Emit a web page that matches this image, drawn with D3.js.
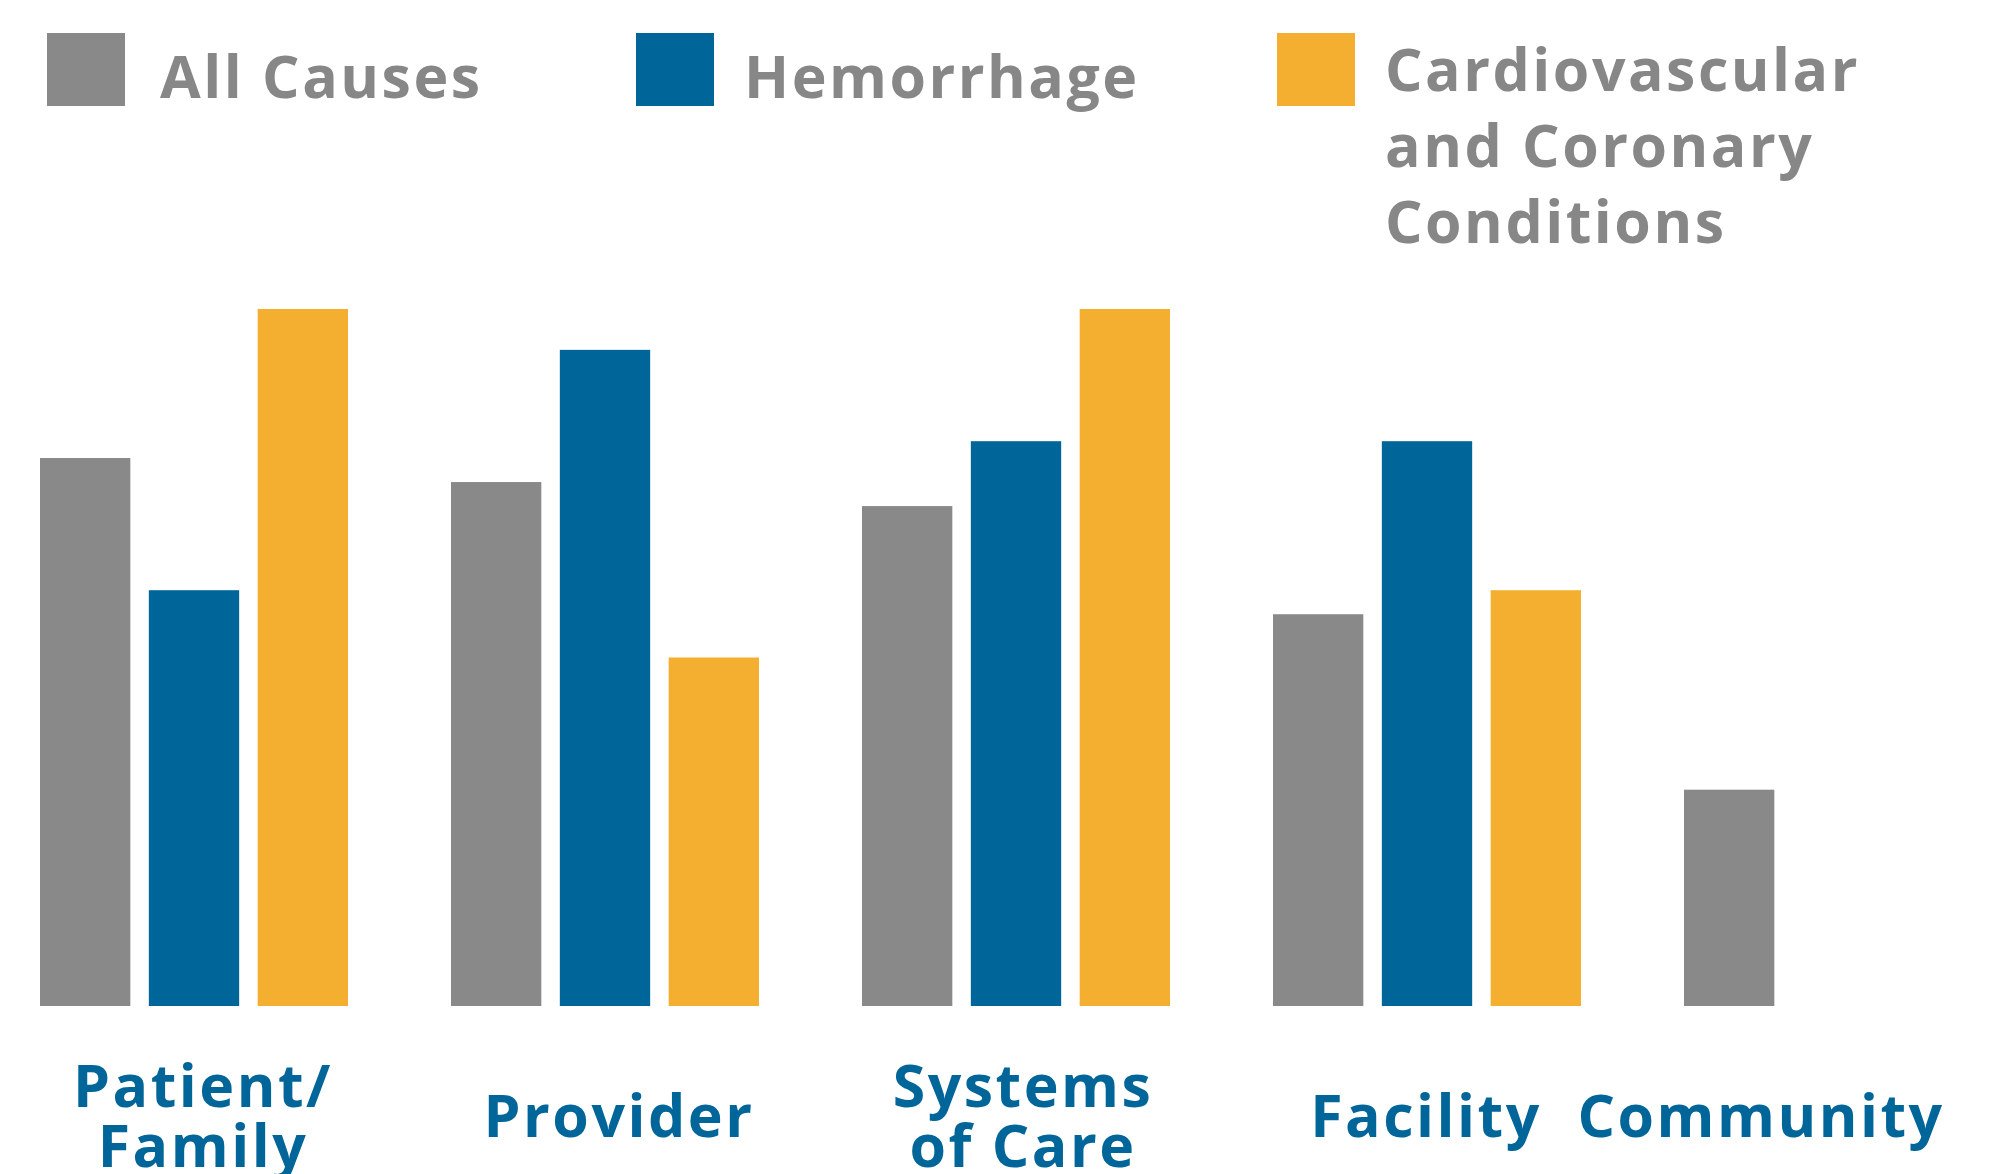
<!DOCTYPE html>
<html>
<head>
<meta charset="utf-8">
<script src="https://cdn.jsdelivr.net/npm/d3@7"></script>
<style>
  body { margin: 0; background: #fff; }
  svg { display: block; }
  text { font-family: "Open Sans", sans-serif; font-weight: 700; letter-spacing: 2.5px; }
</style>
</head>
<body>
<div id="chart"></div>
<script>
var svgWidth = 1989;
var svgHeight = 1174;

// data
var categories = ["Patient/\nFamily", "Provider", "Systems\nof Care", "Facility", "Community"];
var seriesNames = ["All Causes", "Hemorrhage", "Cardiovascular\nand Coronary\nConditions"];
var allCauses = [22.8, 21.8, 20.8, 16.3, 9.0];
var hemorrhage = [17.3, 27.3, 23.5, 23.5, null];
var cardio = [29.0, 14.5, 29.0, 17.3, null];
var seriesValues = [allCauses, hemorrhage, cardio];

var colors = ["#898989", "#00669a", "#f4af30"];
var blue = "#00669a";
var textGray = "#878787";

var svg = d3.select("#chart")
  .append("svg")
  .attr("width", svgWidth)
  .attr("height", svgHeight);

// scales
var x0 = d3.scaleBand()
  .domain(categories)
  .range([40, 40 + 5 * 411])
  .padding(0);

var x1 = d3.scaleBand()
  .domain(d3.range(seriesNames.length))
  .range([0, 308])
  .paddingInner(0.17)
  .paddingOuter(0);

var yScale = d3.scaleLinear()
  .domain([0, 29])
  .range([1006, 309]);

// bars
var groups = svg.selectAll("g.group")
  .data(categories)
  .enter()
  .append("g")
  .attr("class", "group")
  .attr("transform", function(d) {
    return "translate(" + x0(d) + ",0)";
  });

groups.selectAll("rect")
  .data(function(d, i) {
    return seriesValues.map(function(vals, s) {
      return { s: s, v: vals[i] };
    }).filter(function(d) { return d.v != null; });
  })
  .enter()
  .append("rect")
  .attr("x", function(d) { return x1(d.s); })
  .attr("y", function(d) { return yScale(d.v); })
  .attr("width", x1.bandwidth())
  .attr("height", function(d) { return yScale(0) - yScale(d.v); })
  .attr("fill", function(d) { return colors[d.s]; });

// category labels (small nudges to sit where the original has them)
var labelShift = [9, 14, 7, -1, -77];
var labelSize = 59;
var lineGap = 60;

groups.each(function(d, i) {
  var lines = d.split("\n");
  var cx = 154 + labelShift[i];
  var t = d3.select(this).append("text")
    .attr("text-anchor", "middle")
    .attr("fill", blue)
    .attr("font-size", labelSize);
  lines.forEach(function(line, j) {
    t.append("tspan")
      .attr("x", cx)
      .attr("y", 1137 + (j - (lines.length - 1) / 2) * lineGap)
      .text(line);
  });
});

// legend
var legendX = [47, 636, 1277];
var legend = svg.selectAll("g.legend")
  .data(seriesNames)
  .enter()
  .append("g")
  .attr("class", "legend")
  .attr("transform", function(d, i) {
    return "translate(" + legendX[i] + ",33)";
  });

legend.append("rect")
  .attr("width", 78)
  .attr("height", 73)
  .attr("fill", function(d, i) { return colors[i]; });

legend.each(function(d, i) {
  var lines = d.split("\n");
  var t = d3.select(this).append("text")
    .attr("fill", textGray)
    .attr("font-size", labelSize);
  lines.forEach(function(line, j) {
    t.append("tspan")
      .attr("x", [113, 108, 108][i])
      .attr("y", (lines.length > 1 ? 58 : 65) + j * 76)
      .text(line);
  });
});
</script>
</body>
</html>
